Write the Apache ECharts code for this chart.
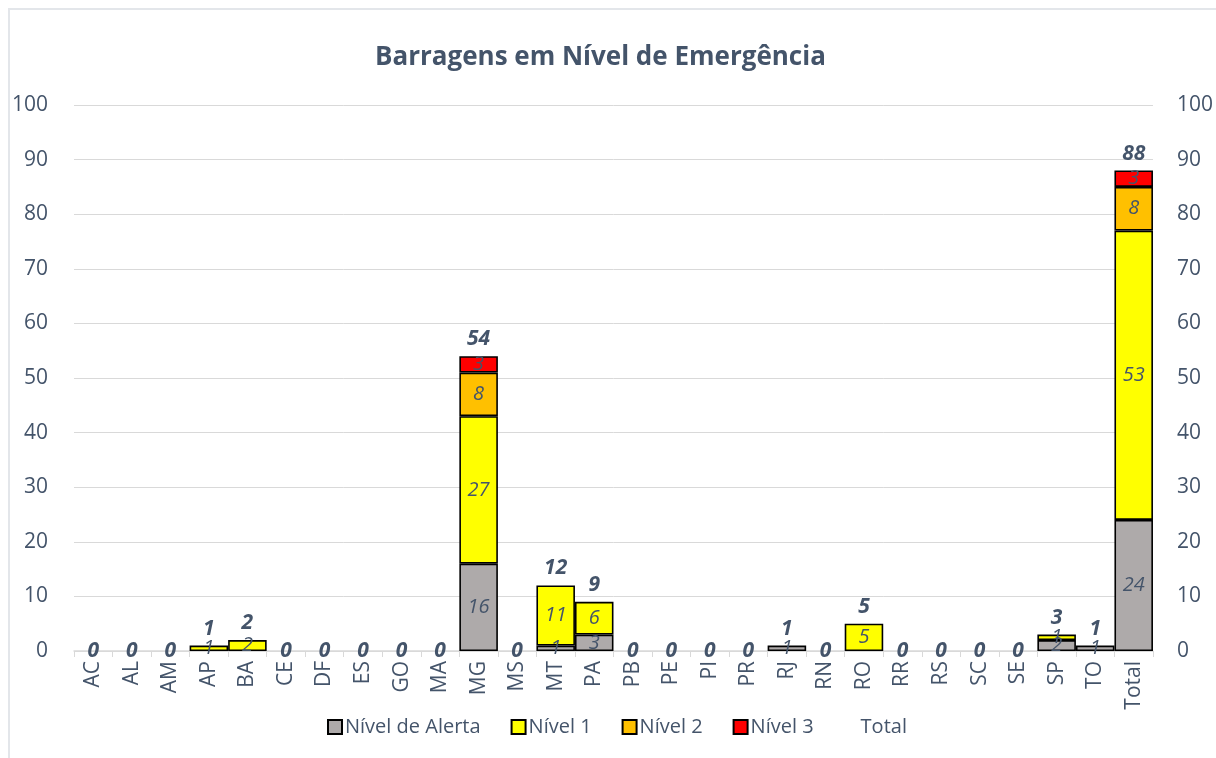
<!DOCTYPE html>
<html>
<head>
<meta charset="utf-8">
<script src="https://cdn.jsdelivr.net/npm/echarts@6/dist/echarts.min.js"></script>
<style>
  html, body { margin: 0; padding: 0; background: #fff; overflow: hidden; }
  #frame { position: absolute; left: 8px; top: 8px; width: 1300px; height: 800px; border-left: 2px solid #E3E6EA; border-top: 2px solid #E3E6EA; }
  #main { position: absolute; left: 0; top: 0; width: 1216px; height: 758px; }
</style>
</head>
<body>
<div id="frame"></div>
<div id="main"></div>
<script>
// estados
var estados = ['AC','AL','AM','AP','BA','CE','DF','ES','GO','MA','MG','MS','MT','PA','PB','PE','PI','PR','RJ','RN','RO','RR','RS','SC','SE','SP','TO','Total'];
var nivelAlerta = [0,0,0,0,0,0,0,0,0,0,16,0,1,3,0,0,0,0,1,0,0,0,0,0,0,2,1,24];
var nivel1      = [0,0,0,1,2,0,0,0,0,0,27,0,11,6,0,0,0,0,0,0,5,0,0,0,0,1,0,53];
var nivel2      = [0,0,0,0,0,0,0,0,0,0,8,0,0,0,0,0,0,0,0,0,0,0,0,0,0,0,0,8];
var nivel3      = [0,0,0,0,0,0,0,0,0,0,3,0,0,0,0,0,0,0,0,0,0,0,0,0,0,0,0,3];
var total       = [0,0,0,1,2,0,0,0,0,0,54,0,12,9,0,0,0,0,1,0,5,0,0,0,0,3,1,88];
var yTicks = [0,10,20,30,40,50,60,70,80,90,100];

var txt = '#44546A';

function barSerie(nome, dados, cor){
    return {
        name: nome,
        type: 'bar',
        stack: 'a',
        barCategoryGap: '0%',
        // zeros sem barra
        data: dados.map(function(v){ return v == 0 ? '-' : v; }),
        itemStyle: { color: cor, borderColor: '#000', borderWidth: 1.6 },
        label: {
            show: true,
            position: 'inside',
            fontFamily: 'Open Sans',
            fontStyle: 'italic',
            fontSize: 20,
            color: txt
        }
    };
}

// total: rótulo centrado no eixo quando 0, acima quando > 0
var totalData = total.map(function(v){
    if(v == 0){
        return { value: v, label: { position: 'inside' } };
    }
    return { value: v, label: { position: 'top', distance: 6 } };
});

var myChart = echarts.init(document.getElementById('main'));
var option = {
    animation: false,
    textStyle: { fontFamily: 'Open Sans' },
    title: {
        text: 'Barragens em Nível de Emergência',
        left: 370,
        top: 40,
        textStyle: { fontFamily: 'Open Sans', fontSize: 26, fontWeight: 'bold', color: txt }
    },
    legend: {
        bottom: 16,
        left: 322,
        itemWidth: 14,
        itemHeight: 14,
        itemGap: 30,
        textStyle: { fontFamily: 'Open Sans', fontSize: 20, color: txt, padding: [0,0,0,-2] },
        data: [
            { name: 'Nível de Alerta', icon: 'rect', itemStyle: { borderColor: '#000', borderWidth: 2 } },
            { name: 'Nível 1', icon: 'rect', itemStyle: { borderColor: '#000', borderWidth: 2 } },
            { name: 'Nível 2', icon: 'rect', itemStyle: { borderColor: '#000', borderWidth: 2 } },
            { name: 'Nível 3', icon: 'rect', itemStyle: { borderColor: '#000', borderWidth: 2 } },
            { name: 'Total', icon: 'rect', itemStyle: { color: 'rgba(0,0,0,0)', borderWidth: 0 } }
        ]
    },
    grid: { left: 74, right: 60, top: 105, bottom: 107 },
    xAxis: {
        type: 'category',
        data: estados,
        axisLine: { lineStyle: { color: '#D9D9D9', width: 1.5 } },
        axisTick: { show: true, length: 6, lineStyle: { color: '#D9D9D9' } },
        axisLabel: { rotate: 90, fontSize: 21, color: txt, margin: 10, interval: 0 }
    },
    yAxis: [{
        type: 'value',
        min: 0, max: 100, interval: 10,
        axisLine: { show: false },
        axisTick: { show: false },
        splitLine: { lineStyle: { color: '#D9D9D9', width: 1 } },
        axisLabel: { fontSize: 21, color: txt, margin: 26,
            formatter: function(v){ return yTicks.indexOf(v) >= 0 ? v : ''; } }
    }, {
        type: 'value',
        position: 'right',
        min: 0, max: 100, interval: 10,
        axisLine: { show: false },
        axisTick: { show: false },
        splitLine: { show: false },
        axisLabel: { fontSize: 21, color: txt, margin: 24 }
    }],
    series: [
        barSerie('Nível de Alerta', nivelAlerta, '#AEAAAA'),
        barSerie('Nível 1', nivel1, '#FFFF00'),
        barSerie('Nível 2', nivel2, '#FFC000'),
        barSerie('Nível 3', nivel3, '#FF0000'),
        {
            name: 'Total',
            type: 'line',
            data: totalData,
            symbol: 'circle',
            symbolSize: 1,
            itemStyle: { color: 'rgba(0,0,0,0)' },
            lineStyle: { opacity: 0 },
            z: 10,
            label: {
                show: true,
                fontFamily: 'Open Sans',
                fontStyle: 'italic',
                fontWeight: 'bold',
                fontSize: 21,
                color: txt
            }
        }
    ]
};
myChart.setOption(option);
</script>
</body>
</html>
